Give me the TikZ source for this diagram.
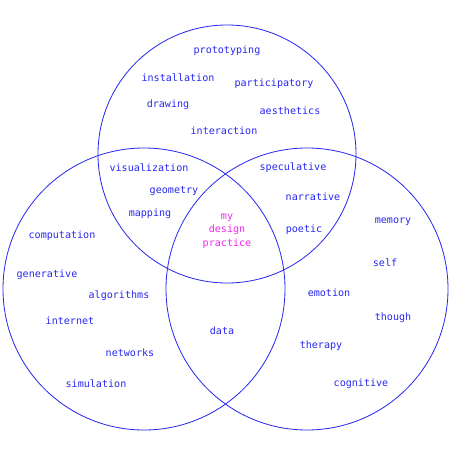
\documentclass[tikz,border=0pt]{standalone}
\usepackage{fontspec}
\setmonofont{DejaVu Sans Mono}
\definecolor{vennblue}{RGB}{40,40,240}
\definecolor{vennpink}{RGB}{240,40,240}
\tikzset{
    word/.style={font=\ttfamily\fontsize{8.6}{10}\selectfont,text=vennblue,inner sep=1pt},
    core/.style={word,text=vennpink,align=center,font=\ttfamily\fontsize{8.6}{11.5}\selectfont},
    ring/.style={draw=vennblue,line width=0.7pt}
}

\begin{document}
\begin{tikzpicture}[x=0.03cm,y=-0.03cm]
    \useasboundingbox (0,0) rectangle (450,450);

    % the three circles
    \draw[ring] (227,154) circle (129);
    \draw[ring] (144,289) circle (141);
    \draw[ring] (307,289) circle (141);

    % top circle
    \node[word] (proto) at (227,51) {prototyping};
    \node[word] (install) at (178,78) {installation};
    \node[word] (partic) at (274,84) {participatory};
    \node[word] (draw) at (168,105) {drawing};
    \node[word] (aesth) at (290,111) {aesthetics};
    \node[word] (inter) at (224,131) {interaction};

    % top & left
    \node[word] (visual) at (149,168) {visualization};
    \node[word] (geom) at (174,191) {geometry};
    \node[word] (mapp) at (150,214) {mapping};

    % top & right
    \node[word] (specul) at (293,168) {speculative};
    \node[word] (narr) at (313,197) {narrative};
    \node[word] (poet) at (304,230) {poetic};

    % centre
    \node[core] (practice) at (227,231) {my\\design\\practice};

    % left circle
    \node[word] (comput) at (62,236) {computation};
    \node[word] (gener) at (47,275) {generative};
    \node[word] (algo) at (119,296) {algorithms};
    \node[word] (inet) at (70,321) {internet};
    \node[word] (netw) at (130,353) {networks};
    \node[word] (simul) at (96,384) {simulation};

    % left & right
    \node[word] (data) at (222,331) {data};

    % right circle
    \node[word] (memo) at (393,222) {memory};
    \node[word] (self) at (385,263) {self};
    \node[word] (emot) at (329,293) {emotion};
    \node[word] (though) at (393,318) {though};
    \node[word] (thera) at (321,346) {therapy};
    \node[word] (cogn) at (361,384) {cognitive};
\end{tikzpicture}
\end{document}
